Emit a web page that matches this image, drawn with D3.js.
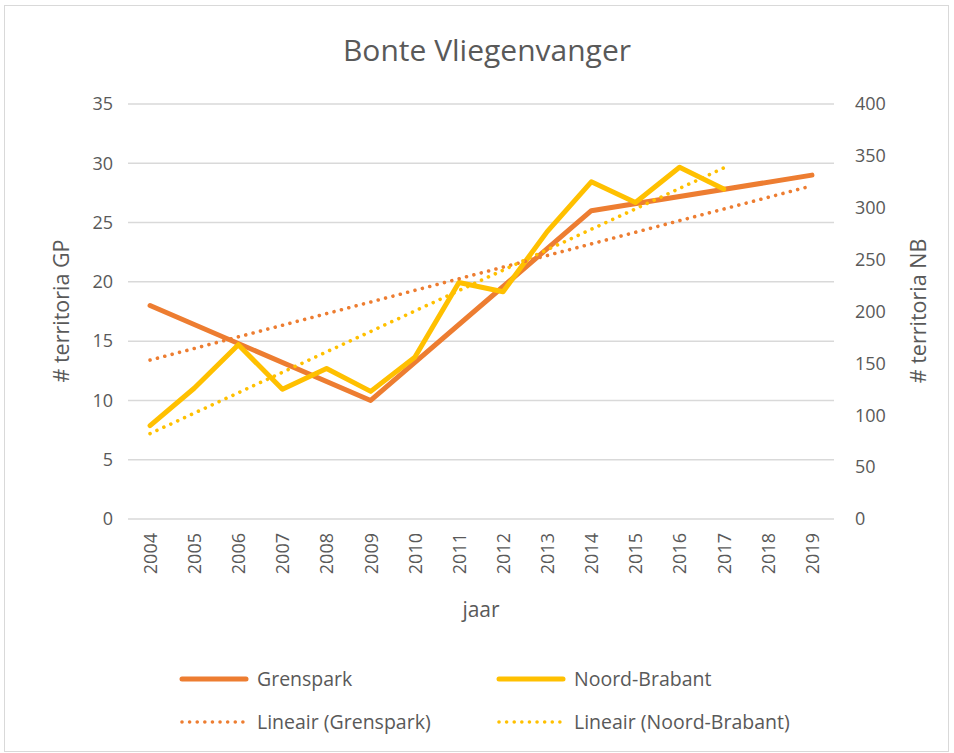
<!DOCTYPE html>
<meta charset="utf-8">
<style>
    body { margin: 0; background: #fff; }
    svg { font-family: "Open Sans", sans-serif; }
    text { fill: #595959; }
    .grid line { stroke: #d9d9d9; stroke-width: 1.5; }
</style>
<body>
<script src="https://cdn.jsdelivr.net/npm/d3@7"></script>
<script>
    // data
    var years = [2004, 2005, 2006, 2007, 2008, 2009, 2010, 2011, 2012, 2013, 2014, 2015, 2016, 2017, 2018, 2019];
    // Grenspark only counted in a few years, line spans the gaps
    var grenspark = [18, null, null, null, null, 10, null, null, null, null, 26, null, null, null, null, 29];
    var noordBrabant = [90, 126, 168, 125, 145, 123, 156, 228, 219, 277, 325, 305, 339, 318, null, null];
    var leftTicks = [0, 5, 10, 15, 20, 25, 30, 35];
    var rightTicks = [0, 50, 100, 150, 200, 250, 300, 350, 400];

    var W = 954, H = 753;
    var plot = {left: 128, right: 834, top: 104, bottom: 519};
    var orange = "#ED7D31", yellow = "#FFC000";

    var svg = d3.select("body").append("svg")
        .attr("width", W)
        .attr("height", H);

    svg.append("rect")
        .attr("x", 4.5).attr("y", 5.5)
        .attr("width", 944).attr("height", 746)
        .attr("fill", "#fff")
        .attr("stroke", "#d9d9d9");

    var x = d3.scalePoint().domain(years).range([plot.left, plot.right]).padding(0.5);
    var yL = d3.scaleLinear().domain([0, 35]).range([plot.bottom, plot.top]);
    var yR = d3.scaleLinear().domain([0, 400]).range([plot.bottom, plot.top]);

    // gridlines
    svg.append("g").attr("class", "grid")
        .selectAll("line").data(leftTicks).join("line")
        .attr("x1", plot.left).attr("x2", plot.right)
        .attr("y1", d => yL(d)).attr("y2", d => yL(d));

    // axes (text only, Excel style)
    var axL = svg.append("g")
        .attr("transform", "translate(" + plot.left + ",0)")
        .call(d3.axisLeft(yL).tickValues(leftTicks).tickSize(0).tickPadding(15));
    var axR = svg.append("g")
        .attr("transform", "translate(" + plot.right + ",0)")
        .call(d3.axisRight(yR).tickValues(rightTicks).tickSize(0).tickPadding(21));
    var axX = svg.append("g")
        .attr("transform", "translate(0," + plot.bottom + ")")
        .call(d3.axisBottom(x).tickSize(0));
    axX.selectAll("text")
        .attr("transform", "rotate(-90)")
        .attr("x", -14).attr("y", 0).attr("dy", "0.35em")
        .style("text-anchor", "end");
    [axL, axR, axX].forEach(function(a) {
        a.select(".domain").remove();
        a.selectAll("text").attr("font-size", 18).attr("font-family", "Open Sans").style("fill", "#595959");
    });

    // titles
    svg.append("text")
        .attr("x", 487).attr("y", 61)
        .attr("text-anchor", "middle")
        .attr("font-size", 30)
        .text("Bonte Vliegenvanger");
    svg.append("text")
        .attr("x", 481).attr("y", 617)
        .attr("text-anchor", "middle")
        .attr("font-size", 21)
        .text("jaar");
    svg.append("text")
        .attr("transform", "translate(69,311) rotate(-90)")
        .attr("text-anchor", "middle")
        .attr("font-size", 21.5)
        .text("# territoria GP");
    svg.append("text")
        .attr("transform", "translate(926,311) rotate(-90)")
        .attr("text-anchor", "middle")
        .attr("font-size", 21.5)
        .text("# territoria NB");

    function points(vals) {
        return years.map((yr, i) => ({ yr: yr, v: vals[i], i: i })).filter(d => d.v != null);
    }
    // least squares trend over the counted years
    function trend(pts) {
        var mx = d3.mean(pts, d => d.i), my = d3.mean(pts, d => d.v);
        var sxy = d3.sum(pts, d => (d.i - mx) * (d.v - my));
        var sxx = d3.sum(pts, d => (d.i - mx) * (d.i - mx));
        var b = sxy / sxx, a = my - b * mx;
        var first = pts[0], last = pts[pts.length - 1];
        return [first, last].map(d => ({ yr: d.yr, v: a + b * d.i }));
    }

    var gp = points(grenspark), nb = points(noordBrabant);
    var lineL = d3.line().x(d => x(d.yr)).y(d => yL(d.v));
    var lineR = d3.line().x(d => x(d.yr)).y(d => yR(d.v));

    var dotted = "0.01 7.6";
    svg.append("path").attr("d", lineL(gp))
        .attr("fill", "none").attr("stroke", orange).attr("stroke-width", 5)
        .attr("stroke-linecap", "round").attr("stroke-linejoin", "round");
    svg.append("path").attr("d", lineR(nb))
        .attr("fill", "none").attr("stroke", yellow).attr("stroke-width", 5)
        .attr("stroke-linecap", "round").attr("stroke-linejoin", "round");
    svg.append("path").attr("d", lineL(trend(gp)))
        .attr("fill", "none").attr("stroke", orange).attr("stroke-width", 3.6)
        .attr("stroke-linecap", "round").attr("stroke-dasharray", dotted);
    svg.append("path").attr("d", lineR(trend(nb)))
        .attr("fill", "none").attr("stroke", yellow).attr("stroke-width", 3.6)
        .attr("stroke-linecap", "round").attr("stroke-dasharray", dotted);

    // legend
    var legend = [
        { name: "Grenspark", color: orange, dash: null, lx: 182, ly: 679 },
        { name: "Noord-Brabant", color: yellow, dash: null, lx: 499, ly: 679 },
        { name: "Lineair (Grenspark)", color: orange, dash: dotted, lx: 182, ly: 722 },
        { name: "Lineair (Noord-Brabant)", color: yellow, dash: dotted, lx: 499, ly: 722 }
    ];
    var lg = svg.append("g").selectAll("g").data(legend).join("g")
        .attr("transform", d => "translate(" + d.lx + "," + d.ly + ")");
    lg.append("line")
        .attr("x1", 0).attr("x2", 64)
        .attr("stroke", d => d.color)
        .attr("stroke-width", d => d.dash ? 3.6 : 5)
        .attr("stroke-linecap", "round")
        .attr("stroke-dasharray", d => d.dash);
    lg.append("text")
        .attr("x", 75).attr("dy", "0.35em")
        .attr("font-size", 19.5)
        .text(d => d.name);
</script>
</body>
